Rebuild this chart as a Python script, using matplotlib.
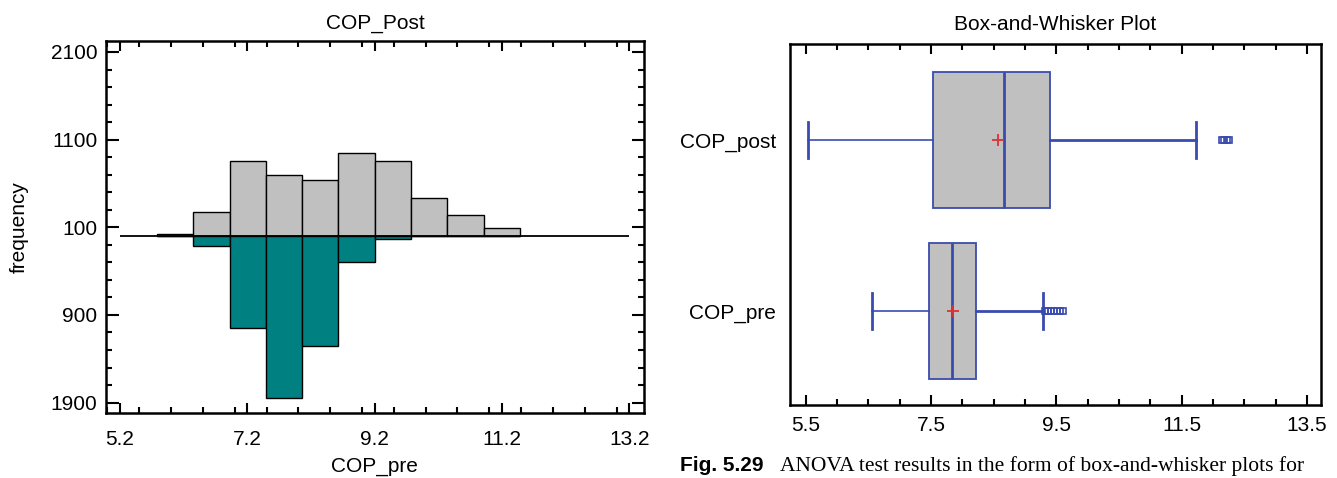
import matplotlib
matplotlib.use("Agg")
import matplotlib.pyplot as plt
from matplotlib.ticker import MultipleLocator, FixedLocator, FuncFormatter

plt.rcParams['font.family'] = ['Liberation Sans', 'DejaVu Sans']

# ---------------- data ----------------
bin_left = [5.78, 6.35, 6.92, 7.49, 8.06, 8.63, 9.20, 9.77, 10.34, 10.91]
bin_width = 0.57
post_counts = [19, 273, 861, 691, 638, 949, 861, 429, 235, 91]
pre_counts = [0, 118, 1044, 1852, 1252, 300, 38, 0, 0, 0]

hist_xticks = [5.2, 7.2, 9.2, 11.2, 13.2]
hist_yticks = [-1900, -900, 100, 1100, 2100]

box_labels = ['COP_pre', 'COP_post']
box_q1 = [7.47, 7.53]
box_med = [7.84, 8.66]
box_q3 = [8.21, 9.39]
box_whislo = [6.55, 5.53]
box_whishi = [9.29, 11.72]
box_mean = [7.85, 8.57]
box_fliers = [[9.31, 9.36, 9.41, 9.46, 9.51, 9.56, 9.61],
              [12.14, 12.18, 12.22, 12.26]]
box_xticks = [5.5, 7.5, 9.5, 11.5, 13.5]

FS = 15
BLUE = '#3A4BAE'

fig = plt.figure(figsize=(13.37, 4.78), dpi=100)

# ---------------- left: back-to-back histogram ----------------
ax1 = fig.add_axes([0.0791, 0.1354, 0.4026, 0.7782])
ax1.bar(bin_left, post_counts, width=bin_width, align='edge',
        color='#C0C0C0', edgecolor='black', linewidth=1.0, zorder=2)
ax1.bar(bin_left, [-c for c in pre_counts], width=bin_width, align='edge',
        color='#008080', edgecolor='black', linewidth=1.0, zorder=2)
ax1.hlines(0, hist_xticks[0], hist_xticks[-1], color='black', linewidth=1.3, zorder=3)
ax1.set_xlim(4.975, 13.43)
ax1.set_ylim(-2022, 2222)
ax1.xaxis.set_major_locator(FixedLocator(hist_xticks))
ax1.xaxis.set_minor_locator(MultipleLocator(0.5))
ax1.yaxis.set_major_locator(FixedLocator(hist_yticks))
ax1.yaxis.set_minor_locator(FixedLocator([v for v in range(-1900, 2101, 200)]))
ax1.yaxis.set_major_formatter(FuncFormatter(lambda v, p: f"{abs(int(round(v)))}"))
ax1.xaxis.set_major_formatter(FuncFormatter(lambda v, p: f"{v:.1f}"))
ax1.tick_params(which='both', direction='in', top=True, right=True, labelsize=FS, width=1.5)
ax1.tick_params(axis='x', which='major', length=7, pad=12)
ax1.tick_params(axis='y', which='major', length=9, pad=6)
ax1.tick_params(which='minor', length=4)
for s in ax1.spines.values():
    s.set_linewidth(1.8)
ax1.set_title('COP_Post', fontsize=FS, pad=9)
ax1.set_xlabel('COP_pre', fontsize=FS, labelpad=6)
ax1.set_ylabel('frequency', fontsize=FS, labelpad=16)

# ---------------- right: box-and-whisker plot ----------------
ax2 = fig.add_axes([0.5909, 0.1527, 0.3971, 0.7546])
stats = []
for i in range(len(box_labels)):
    stats.append(dict(label=box_labels[i], q1=box_q1[i], med=box_med[i], q3=box_q3[i],
                      whislo=box_whislo[i], whishi=box_whishi[i], mean=box_mean[i],
                      fliers=box_fliers[i]))
res = ax2.bxp(stats, positions=[0, 1], widths=0.8, capwidths=0.21, vert=False,
              patch_artist=True, showmeans=True,
              boxprops=dict(facecolor='#C0C0C0', edgecolor=BLUE, linewidth=1.3),
              medianprops=dict(color=BLUE, linewidth=2.0),
              whiskerprops=dict(color=BLUE, linewidth=1.2),
              capprops=dict(color=BLUE, linewidth=2.0),
              meanprops=dict(marker='+', markeredgecolor='#E03030', markersize=9,
                             markeredgewidth=1.3),
              flierprops=dict(marker='s', markerfacecolor='none', markeredgecolor=BLUE,
                              markersize=5, markeredgewidth=1.2))
for w in res['whiskers'][1::2]:
    w.set_linewidth(2.0)
ax2.set_xlim(5.25, 13.72)
ax2.set_ylim(-0.55, 1.56)
ax2.xaxis.set_major_locator(FixedLocator(box_xticks))
ax2.xaxis.set_minor_locator(MultipleLocator(0.5))
ax2.xaxis.set_major_formatter(FuncFormatter(lambda v, p: f"{v:.1f}"))
ax2.tick_params(axis='x', which='both', direction='in', top=True, labelsize=FS, width=1.5)
ax2.tick_params(axis='x', which='major', length=7, pad=8)
ax2.tick_params(axis='x', which='minor', length=4)
ax2.tick_params(axis='y', length=0, labelsize=FS, pad=10)
for s in ax2.spines.values():
    s.set_linewidth(1.8)
ax2.set_title('Box-and-Whisker Plot', fontsize=FS, pad=10)

# caption (kept fully visible at the bottom edge)
cap_y = 1 - 456 / 478
fig.text(0.5086, cap_y, 'Fig. 5.29', fontsize=15, fontweight='bold',
         family=['Liberation Sans'], va='top', ha='left')
fig.text(0.5833, cap_y,
         'ANOVA test results in the form of box-and-whisker plots for',
         fontsize=15.5, family=['Liberation Serif'], va='top', ha='left')

fig.savefig('out.png', dpi=100)
